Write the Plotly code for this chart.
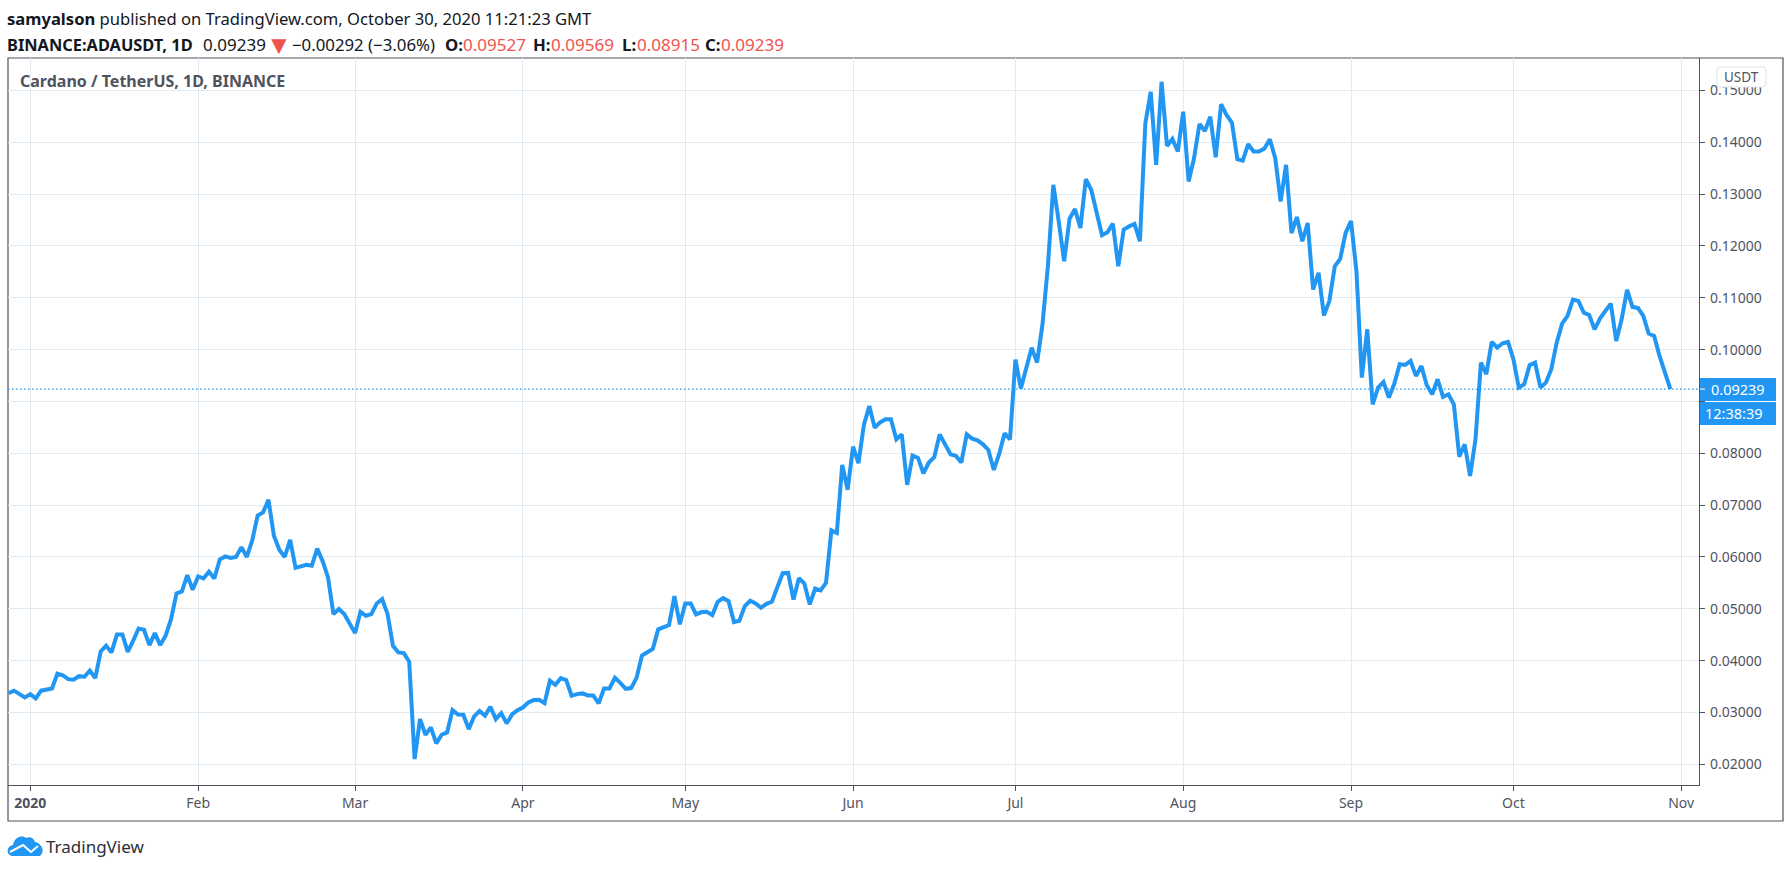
import pandas as pd
import plotly.graph_objects as go

W, H = 1792, 871
START_DATE = "2019-12-28"
CLOSE = [
    .03373, .0342, .03354, .0329, .03354, .0327, .0342, .03437, .03463, .03746,
    .03714, .03643, .0363, .037, .03688, .03804, .03662, .04177, .04286, .04158,
    .04505, .04505, .0417, .04383, .0462, .04595, .04299, .0453, .043, .0448,
    .048, .05296, .05334, .0565, .05367, .05624, .05585, .05714, .05585, .0595,
    .0601, .0598, .06, .0619, .06, .0632, .068, .0686, .071, .0641,
    .0614, .06, .0633, .0579, .0583, .0585, .0583, .0616, .0592, .05605,
    .04897, .04994, .04897, .04704, .0453, .04942, .04865, .04897, .05103, .05186,
    .04897, .04286, .04158, .04145, .03977, .021, .02871, .02569, .02711, .02402,
    .02569, .02614, .03045, .02961, .02955, .02678, .02923, .03026, .02936, .03109,
    .02871, .02987, .02788, .02961, .03045, .03096, .03193, .03238, .03244, .0318,
    .03611, .03534, .03662, .03624, .03322, .03354, .03367, .03328, .03328, .03174,
    .03462, .03462, .03667, .0357, .03455, .0347, .03667, .04096, .0416, .04224,
    .04603, .04647, .04686, .05244, .04699, .05103, .05103, .04891, .04936, .04942,
    .04878, .05135, .05205, .05147, .04744, .04769, .05051, .05154, .05103, .05019,
    .05096, .05135, .05436, .05686, .05692, .05179, .0559, .05487, .05083, .05391,
    .05353, .055, .06513, .06462, .07776, .07295, .08128, .07808, .08545, .0891,
    .08494, .08596, .08654, .08654, .08269, .08365, .07391, .07955, .0791, .07615,
    .07821, .07923, .08365, .08173, .07981, .07949, .07821, .08365, .08282, .0825,
    .08173, .08064, .07679, .07987, .08385, .08269, .09808, .0925, .09635, .10038,
    .0975, .10487, .11609, .1318, .12474, .11705, .12526, .12712, .12346, .13288,
    .13083, .12603, .12205, .12263, .1243, .11609, .12314, .12378, .12423, .1209,
    .14365, .14974, .13564, .15167, .1393, .14064, .13821, .1459, .13244, .13692,
    .14353, .14218, .14494, .13712, .14737, .14526, .14378, .13673, .13647, .13962,
    .13821, .13821, .13878, .14058, .13692, .12859, .13564, .1225, .12558, .1209,
    .12442, .1116, .11481, .1066, .10936, .11609, .1175, .1225, .1248, .11518,
    .0946, .10392, .08945, .09267, .09376, .09074, .09344, .09717, .09704, .09781,
    .09492, .09685, .09312, .09138, .09428, .09087, .09138, .08945, .07936, .08174,
    .07563, .0827, .09749, .09524, .10148, .10039, .10122, .10148, .09814, .09267,
    .09331, .09698, .09749, .09267, .09363, .09621, .10135, .10502, .1065, .10965,
    .10939, .10714, .10669, .10392, .10598, .10746, .10887, .10167, .10585, .11151,
    .10823, .10804, .1065, .10309, .10264, .09878, .09543, .09239,
]
LAST_PRICE = 0.09239
COUNTDOWN = "12:38:39"
MONTH_TICKS = ["2020-01-01", "2020-02-01", "2020-03-01", "2020-04-01", "2020-05-01", "2020-06-01",
               "2020-07-01", "2020-08-01", "2020-09-01", "2020-10-01", "2020-11-01"]
MONTH_LABELS = ["<b>2020</b>", "Feb", "Mar", "Apr", "May", "Jun", "Jul", "Aug", "Sep", "Oct", "Nov"]
PRICE_TICKS = [.02, .03, .04, .05, .06, .07, .08, .09, .10, .11, .12, .13, .14, .15]
# the 0.09000 label sits hidden behind the last-price tag in the reference
PRICE_LABELS = ["" if v == .09 else f"{v:.5f}" for v in PRICE_TICKS]

BLUE = "#2196f3"
FRAME = "#50535e"
GRID = "#e1ecf2"
RED = "#ef5350"
INK = "#131722"
FONT = "Noto Sans"

dates = pd.date_range(START_DATE, periods=len(CLOSE), freq="D")


def px(x):
    return x / W


def py(y):
    return 1 - y / H


def p(x, y):
    return f"{px(x):.6f},{py(y):.6f}"


L, R, T, B = 8, 1699, 58, 785
OUT_R, OUT_B = 1783, 821

fig = go.Figure()
fig.add_trace(go.Scatter(x=dates, y=CLOSE, mode="lines", line=dict(color=BLUE, width=4),
                         hoverinfo="skip", showlegend=False))

shapes = [
    dict(type="line", xref="paper", yref="y", x0=px(L), x1=px(R), y0=LAST_PRICE, y1=LAST_PRICE,
         line=dict(color=BLUE, width=1.3, dash="1.5px,2.5px")),
    dict(type="rect", xref="paper", yref="paper", x0=px(L), x1=px(OUT_R), y0=py(OUT_B), y1=py(T),
         line=dict(color=FRAME, width=1.2), layer="below"),
    # rounded currency badge
    dict(type="path", xref="paper", yref="paper", layer="above",
         path=(f"M {p(1720,67)} L {p(1763,67)} Q {p(1766,67)} {p(1766,70)} L {p(1766,84)} "
               f"Q {p(1766,87)} {p(1763,87)} L {p(1720,87)} Q {p(1717,87)} {p(1717,84)} "
               f"L {p(1717,70)} Q {p(1717,67)} {p(1720,67)} Z"),
         fillcolor="#ffffff", line=dict(color="#e0e3eb", width=1)),
    # last-price and countdown tags
    dict(type="rect", xref="paper", yref="paper", layer="above", x0=px(R + 1), x1=px(1776),
         y0=py(401), y1=py(378), fillcolor=BLUE, line=dict(width=0)),
    dict(type="rect", xref="paper", yref="paper", layer="above", x0=px(R + 1), x1=px(1776),
         y0=py(425), y1=py(402), fillcolor=BLUE, line=dict(width=0)),
    dict(type="line", xref="paper", yref="y", layer="above", x0=px(R + 1), x1=px(R + 6),
         y0=LAST_PRICE, y1=LAST_PRICE, line=dict(color="#ffffff", width=1)),
    # logo cloud
    dict(type="path", xref="paper", yref="paper", layer="above",
         path=(f"M {p(12,856)} C {p(6,855)} {p(6,846)} {p(13,845)} C {p(14,839)} {p(20,834)} {p(26,838)} "
               f"C {p(29,836)} {p(34,838)} {p(35,842)} C {p(41,843)} {p(46,851)} {p(40,856)} Z"),
         fillcolor=BLUE, line=dict(width=0)),
    dict(type="path", xref="paper", yref="paper", layer="above",
         path=f"M {p(10,852)} L {p(23,845)} L {p(31,852)} L {p(38,846)}",
         line=dict(color="#ffffff", width=2)),
]


def text(x, y, s, size, color, anchor="left", family=FONT):
    return dict(xref="paper", yref="paper", x=px(x), y=py(y), text=s, showarrow=False,
                xanchor=anchor, yanchor="middle", align="left", borderpad=0, borderwidth=0,
                font=dict(family=family, size=size, color=color))


HEAD_Y1, HEAD_Y2 = 18, 45
annotations = [
    text(7, HEAD_Y1, "<b>samyalson</b> published on TradingView.com, October 30, 2020 11:21:23 GMT", 16.6, INK),
    text(7, HEAD_Y2, "<b>BINANCE:ADAUSDT, 1D</b>", 16.4, INK),
    text(203, HEAD_Y2, "0.09239", 17, INK),
    text(279, HEAD_Y2 - 1, "▼", 26, RED, anchor="center"),
    text(292, HEAD_Y2, "−0.00292 (−3.06%)", 16.8, INK),
    text(445, HEAD_Y2, "<b>O:</b>", 16.8, INK),
    text(463, HEAD_Y2, "0.09527", 17, RED),
    text(533, HEAD_Y2, "<b>H:</b>", 16.8, INK),
    text(551, HEAD_Y2, "0.09569", 17, RED),
    text(622, HEAD_Y2, "<b>L:</b>", 16.8, INK),
    text(637, HEAD_Y2, "0.08915", 17, RED),
    text(705, HEAD_Y2, "<b>C:</b>", 16.8, INK),
    text(721, HEAD_Y2, "0.09239", 17, RED),
    text(20, 81, "<b>Cardano / TetherUS, 1D, BINANCE</b>", 16, FRAME),
    text(1741.5, 77, "USDT", 13.5, FRAME, anchor="center"),
    text(1711, 389, f"{LAST_PRICE:.5f}", 14.5, "#ffffff"),
    text(1705, 413, COUNTDOWN, 14.5, "#ffffff"),
    text(46, 846, "TradingView", 17, "#2a2e39"),
]

fig.update_layout(
    width=W, height=H, margin=dict(l=0, r=0, t=0, b=0),
    paper_bgcolor="#ffffff", plot_bgcolor="#ffffff", showlegend=False,
    shapes=shapes, annotations=annotations,
    font=dict(family=FONT, size=14, color=FRAME),
    xaxis=dict(
        domain=[px(L), px(R)], type="date",
        range=["2019-12-27 21:00", "2020-11-04 07:00"],
        tickmode="array", tickvals=MONTH_TICKS, ticktext=MONTH_LABELS, tickangle=0,
        showgrid=True, gridcolor=GRID, gridwidth=1, zeroline=False,
        ticks="outside", ticklen=5, tickwidth=1, tickcolor=FRAME,
        showline=True, linecolor=FRAME, linewidth=1.2,
        tickfont=dict(family=FONT, size=14, color=FRAME),
    ),
    yaxis=dict(
        domain=[py(B), py(T)], side="right", anchor="x",
        range=[.01600, .15626],
        tickmode="array", tickvals=PRICE_TICKS, ticktext=PRICE_LABELS,
        showgrid=True, gridcolor=GRID, gridwidth=1, zeroline=False,
        ticks="outside", ticklen=5, tickwidth=1, tickcolor=FRAME,
        showline=True, linecolor=FRAME, linewidth=1.2,
        tickfont=dict(family=FONT, size=14, color=FRAME),
        ticklabelstandoff=2,
    ),
)

fig.write_html("out.html", post_script="document.body.style.margin='0';",
               config=dict(displayModeBar=False))
